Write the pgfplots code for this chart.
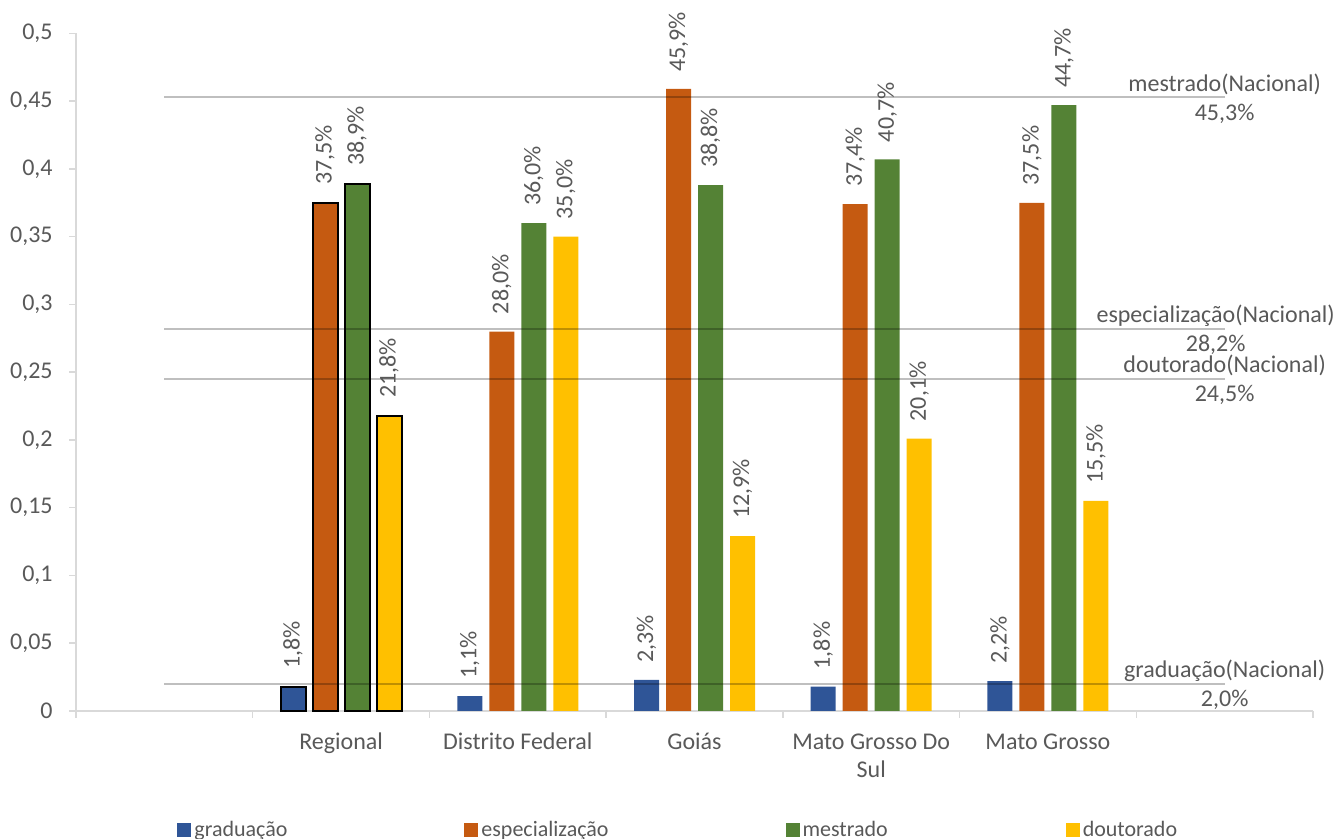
\documentclass[border=0pt]{standalone}
\usepackage{pgfplots}
\pgfplotsset{compat=1.18}
\usepackage{pgfplotstable}
\usepackage{fontspec}
\setmainfont{Carlito}

\definecolor{cgrad}{HTML}{2F5597}
\definecolor{cesp}{HTML}{C55A11}
\definecolor{cmes}{HTML}{548235}
\definecolor{cdout}{HTML}{FFC000}
\definecolor{txt}{HTML}{595959}
\definecolor{axgray}{HTML}{D9D9D9}

% shares per education level (fractions)
\pgfplotstableread{
x grad esp mes dout
1 0.018 0.375 0.389 0.218
}\regional
\pgfplotstableread{
x grad esp mes dout
2 0.011 0.280 0.360 0.350
3 0.023 0.459 0.388 0.129
4 0.018 0.374 0.407 0.201
5 0.022 0.375 0.447 0.155
}\estados

\newcommand\lblfont{\fontsize{12}{14}\selectfont}
\newcommand\legfont{\fontsize{11}{13}\selectfont}

\pgfplotsset{
  serie/.style={bar shift=#1, draw=none,
    legend image code/.code={\fill[##1] (0pt,-3.5pt) rectangle (7pt,3.5pt);},
    nodes near coords={\pgfmathprintnumber[fixed, fixed zerofill, precision=1,
      use comma, assume math mode=true]{\pgfplotspointmeta}\%},
    every node near coord/.append style={rotate=90, anchor=west,
      inner xsep=8.5pt, inner ysep=0pt, font=\lblfont, text=txt}},
  refline/.style={sharp plot, black, opacity=0.25, line width=1pt, forget plot},
}

\begin{document}
\begin{tikzpicture}
\begin{axis}[
  name=ax,
  ybar, bar width=12.5pt,
  scale only axis, width=618.5pt, height=338.8pt,
  xmin=-0.5, xmax=6.5, ymin=0, ymax=0.5,
  axis x line*=bottom, axis y line*=left,
  axis line style={axgray, line width=0.75pt},
  tick style={axgray, line width=0.75pt},
  tick align=outside, major tick length=3.5pt, minor tick length=3.5pt,
  xtick={1,2,3,4,5},
  xticklabels={Regional, Distrito Federal, Goiás,
    {\begin{tabular}[t]{@{}c@{}}Mato Grosso Do\\Sul\end{tabular}}, Mato Grosso},
  minor xtick={-0.5,0.5,1.5,2.5,3.5,4.5,5.5,6.5},
  major x tick style={draw=none},
  ytick={0,0.05,0.1,0.15,0.2,0.25,0.3,0.35,0.4,0.45,0.5},
  yticklabels={0,{0,05},{0,1},{0,15},{0,2},{0,25},{0,3},{0,35},{0,4},{0,45},{0,5}},
  xticklabel style={font=\lblfont, text=txt, anchor=base, inner sep=0pt, yshift=-16pt},
  yticklabel style={font=\lblfont, text=txt, anchor=east, inner sep=0pt, xshift=-8pt},
  clip=false,
  legend columns=4,
  legend style={at={(0,0)}, anchor=west, xshift=50.5pt, yshift=-59.5pt,
    draw=none, inner sep=0pt, font=\legfont, text=txt,
    nodes={inner sep=0pt},
    /tikz/every odd column/.append style={column sep=1.5pt},
    /tikz/column 2/.append style={column sep=88.5pt},
    /tikz/column 4/.append style={column sep=88.5pt},
    /tikz/column 6/.append style={column sep=89pt}},
]
% states
\addplot[serie=-24pt, fill=cgrad, point meta={100*\thisrow{grad}}] table[x=x, y=grad] {\estados};
\addlegendentry{graduação}
\addplot[serie=-8pt, fill=cesp, point meta={100*\thisrow{esp}}] table[x=x, y=esp] {\estados};
\addlegendentry{especialização}
\addplot[serie=8pt, fill=cmes, point meta={100*\thisrow{mes}}] table[x=x, y=mes] {\estados};
\addlegendentry{mestrado}
\addplot[serie=24pt, fill=cdout, point meta={100*\thisrow{dout}}] table[x=x, y=dout] {\estados};
\addlegendentry{doutorado}
% regional group, outlined
\addplot[serie=-24pt, fill=cgrad, draw=black, line width=1pt, forget plot, point meta={100*\thisrow{grad}}] table[x=x, y=grad] {\regional};
\addplot[serie=-8pt, fill=cesp, draw=black, line width=1pt, forget plot, point meta={100*\thisrow{esp}}] table[x=x, y=esp] {\regional};
\addplot[serie=8pt, fill=cmes, draw=black, line width=1pt, forget plot, point meta={100*\thisrow{mes}}] table[x=x, y=mes] {\regional};
\addplot[serie=24pt, fill=cdout, draw=black, line width=1pt, forget plot, point meta={100*\thisrow{dout}}] table[x=x, y=dout] {\regional};
% national references
\addplot[refline] coordinates {(0,0.453) (6,0.453)};
\addplot[refline] coordinates {(0,0.282) (6,0.282)};
\addplot[refline] coordinates {(0,0.245) (6,0.245)};
\addplot[refline] coordinates {(0,0.020) (6,0.020)};
\begin{scope}[every node/.style={font=\lblfont, text=txt, inner sep=0pt}]
\node[anchor=base, yshift=3pt] at (axis cs:6,0.453) {mestrado(Nacional)};
\node[anchor=base, yshift=-11.5pt] at (axis cs:6,0.453) {45,3\%};
\node[anchor=base, yshift=3pt, xshift=-4.5pt] at (axis cs:6,0.282) {especialização(Nacional)};
\node[anchor=base, yshift=-11.5pt, xshift=-4.5pt] at (axis cs:6,0.282) {28,2\%};
\node[anchor=base, yshift=3pt] at (axis cs:6,0.245) {doutorado(Nacional)};
\node[anchor=base, yshift=-11.5pt] at (axis cs:6,0.245) {24,5\%};
\node[anchor=base, yshift=3pt] at (axis cs:6,0.020) {graduação(Nacional)};
\node[anchor=base, yshift=-11.5pt] at (axis cs:6,0.020) {2,0\%};
\end{scope}
\end{axis}
\pgfresetboundingbox
\path (-38pt,-64pt) rectangle (630pt,355.5pt);
\end{tikzpicture}
\end{document}
